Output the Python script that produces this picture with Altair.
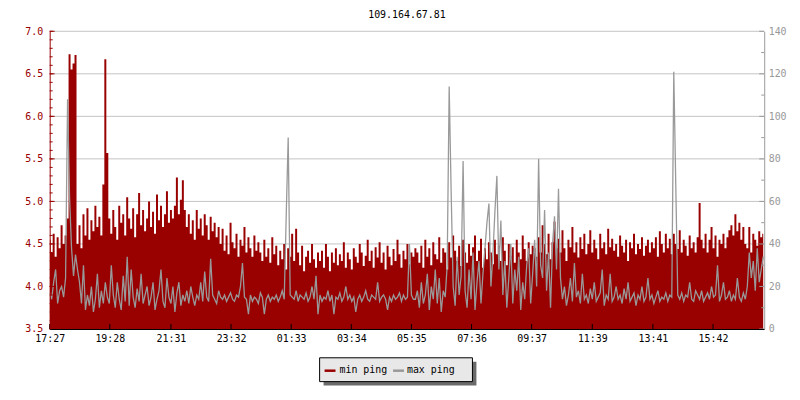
import altair as alt
import pandas as pd

TITLE = "109.164.67.81"
SERIES = ["min ping", "max ping"]
COLORS = ["#990000", "#999999"]
STEP_MIN = 4  # minutes between samples, starting 17:27

# min ping (left axis, ms)
MIN_PING = [
    4.55, 4.40, 4.62, 4.35, 4.58, 4.45, 4.72, 4.50, 4.60, 4.80,
    6.73, 6.55, 6.62, 6.72,
    4.50, 4.72, 4.45, 4.85, 4.60, 4.92, 4.55, 4.78, 4.65, 4.95, 4.70, 4.82, 4.60,
    5.20, 6.67, 5.57,
    4.80, 4.62, 4.90, 4.70, 4.55, 4.95, 4.75, 4.85, 4.60, 5.05,
    4.80, 4.68, 4.92, 4.58, 4.85, 5.10, 4.72, 4.90, 4.65, 4.80,
    5.00, 4.70, 4.88, 4.62, 5.08, 4.78, 4.95, 4.70, 4.85, 5.12,
    4.75, 4.90, 4.80,
    4.95, 5.28, 4.85, 5.02, 5.25, 4.90,
    4.70, 4.85, 4.62, 4.78, 4.55, 4.90, 4.68, 4.80, 4.60, 4.85,
    4.72, 4.55, 4.82, 4.65, 4.75, 4.58, 4.70,
    4.50, 4.68, 4.42, 4.60, 4.38, 4.75, 4.52, 4.45, 4.62, 4.35,
    4.55, 4.48, 4.70, 4.40, 4.58, 4.45, 4.35, 4.60, 4.42, 4.52,
    4.40, 4.30, 4.55, 4.35, 4.45, 4.28, 4.58, 4.38, 4.48, 4.25,
    4.42, 4.32, 4.50, 4.20, 4.45,
    4.35, 4.62, 4.30, 4.68, 4.40, 4.25, 4.48, 4.18, 4.35, 4.42,
    4.28, 4.50, 4.32, 4.22, 4.40,
    4.30, 4.42, 4.22, 4.50, 4.35, 4.18, 4.40, 4.28, 4.45, 4.25,
    4.38, 4.30, 4.52, 4.22, 4.40, 4.32, 4.20, 4.45, 4.35, 4.28,
    4.50, 4.40, 4.24, 4.36, 4.55, 4.30, 4.42, 4.22, 4.46, 4.34,
    4.52, 4.28, 4.40, 4.20, 4.48, 4.35, 4.25, 4.44, 4.30, 4.55,
    4.38, 4.22, 4.42, 4.32, 4.50, 4.26, 4.40, 4.35, 4.45,
    4.40, 4.28, 4.48, 4.22, 4.55, 4.35, 4.45, 4.25, 4.52, 4.38,
    4.32, 4.58, 4.28, 4.45, 4.40, 4.20, 4.52, 4.34, 4.60, 4.42,
    4.30, 4.48, 4.24, 4.55, 4.40, 4.28, 4.50, 4.36, 4.46, 4.60,
    4.30, 4.42, 4.56, 4.22, 4.45, 4.32, 4.52, 4.40, 4.26, 4.55,
    4.38, 4.48, 4.30, 4.58, 4.42, 4.25, 4.50, 4.36, 4.46, 4.28,
    4.55, 4.40, 4.32, 4.60, 4.44, 4.30, 4.52, 4.38, 4.48,
    4.45, 4.35, 4.58, 4.40, 4.72, 4.50, 4.38, 4.62, 4.32, 4.52,
    4.76, 4.45, 4.56, 4.40, 4.66, 4.45, 4.30, 4.55, 4.46, 4.70,
    4.40, 4.52, 4.34, 4.58, 4.44, 4.62, 4.38, 4.50, 4.66, 4.40,
    4.55, 4.45, 4.32, 4.62, 4.45, 4.52, 4.38, 4.68, 4.46, 4.56,
    4.42, 4.50, 4.35, 4.60, 4.48, 4.40, 4.55, 4.30, 4.52, 4.45,
    4.62, 4.38, 4.50, 4.44, 4.58, 4.36, 4.48, 4.55, 4.40, 4.52,
    4.45, 4.58, 4.35, 4.65, 4.50, 4.40, 4.62, 4.45, 4.56, 4.38,
    4.62, 4.50, 4.44, 4.66, 4.40, 4.55, 4.48, 4.36, 4.60, 4.45,
    4.52, 4.40, 4.58,
    4.98,
    4.55, 4.45, 4.62, 4.40, 4.55, 4.70, 4.45, 4.60, 4.35, 4.55,
    4.50, 4.62, 4.45, 4.58, 4.66, 4.72, 4.60,
    4.85,
    4.65, 4.75, 4.55, 4.70, 4.50, 4.45, 4.70, 4.40, 4.62, 4.55,
    4.48, 4.65, 4.58, 4.62,
]

# max ping (right axis, ms)
MAX_PING = [
    17, 14, 22, 28, 12, 18, 20, 15, 24,
    108, 62, 38, 25,
    35, 28, 22, 12, 30, 9, 16, 11, 20, 8, 14, 26, 10, 18, 12, 22, 15,
    12, 30, 16, 10, 22, 14, 9, 25, 13, 34,
    11, 28, 15, 10, 19, 13, 26, 12, 16, 20,
    11, 15, 22, 9, 14, 18, 28, 13, 10, 24,
    15, 12, 20, 8, 17, 22, 11, 16, 13,
    18, 12, 20, 15, 11, 16, 14, 22, 13,
    27, 15, 13, 33, 16,
    14, 12, 18, 15, 14, 16, 13, 15, 17, 14, 13, 16, 15, 20,
    31,
    15, 14, 7, 16, 13, 15, 14, 12, 17, 15,
    7,
    14, 16, 13, 15, 14, 16, 13, 15, 18, 14,
    53, 90,
    16, 15, 14, 18, 13, 16, 15, 14, 17, 13, 15, 20, 14,
    25, 7,
    16, 13, 15, 14, 18, 13, 16,
    7,
    15, 14, 17, 13, 15, 20, 14, 16, 13, 15, 8, 14, 16, 13, 15, 18, 14, 13, 16,
    15, 14, 22, 13, 15, 16, 14, 9, 15, 13, 16, 14, 15, 17, 13, 16, 14, 15,
    40,
    16, 14,
    14, 18, 10, 22, 12, 16, 26, 9, 20, 14, 28, 12, 24, 8, 18, 15, 30,
    114, 64,
    20, 11, 34, 16, 25,
    79,
    18, 10, 28, 14, 36, 9, 22, 32, 12, 26, 38,
    50, 59,
    20, 35,
    55, 72,
    28, 51,
    16, 32, 10, 24, 40, 12, 28, 18, 34, 9, 22, 14, 30, 38, 12, 26, 42, 20,
    80,
    30, 24,
    56,
    18, 36, 10, 40,
    53, 28, 66, 24,
    14, 20, 11, 16, 24, 13, 31, 15, 18, 12, 26, 14, 16, 12, 19, 14, 22, 13,
    15, 17, 28, 11, 16, 14, 26, 13, 15, 20,
    14, 16, 12, 19, 14, 22, 13, 15, 17, 11, 16, 14, 20, 13, 15, 24, 14, 16,
    12, 15, 18, 13, 15, 14, 17, 13, 16, 15,
    121, 68, 16,
    14, 17, 13, 16, 15, 22, 14, 13, 18, 16, 14, 18, 13, 15, 17, 14, 20, 15, 16,
    30,
    13, 16, 22, 14, 15, 18, 13, 16, 14, 24, 15, 13, 17, 14,
    20, 36, 24, 32, 18, 38, 22, 28, 34,
]

TICK_MIN = [0, 121, 244, 365, 486, 607, 728, 849, 970, 1092, 1214, 1335]
TICK_LABELS = ["17:27", "19:28", "21:31", "23:32", "01:33", "03:34",
               "05:35", "07:36", "09:37", "11:39", "13:41", "15:42"]
LEFT_MAJOR = [3.5, 4.0, 4.5, 5.0, 5.5, 6.0, 6.5, 7.0]
LEFT_MINOR = [round(3.5 + 0.1 * k, 1) for k in range(36)]
RIGHT_MAJOR = [0, 20, 40, 60, 80, 100, 120, 140]
RIGHT_MINOR = [10, 30, 50, 70, 90, 110, 130]

W, H = 720, 300
FONT = "DejaVu Sans Mono"
XDOM = [0, 1438]

df_min = pd.DataFrame({"m": [STEP_MIN * i for i in range(len(MIN_PING))], "v": MIN_PING})
df_max = pd.DataFrame({"m": [STEP_MIN * i for i in range(len(MAX_PING))], "v": MAX_PING})

xs = alt.Scale(domain=XDOM, nice=False, zero=False)
ls = alt.Scale(domain=[3.5, 7.0], nice=False, zero=False)
rs = alt.Scale(domain=[0, 140], nice=False, zero=False)

expr = "''"
for t, lab in reversed(list(zip(TICK_MIN, TICK_LABELS))):
    expr = f"datum.value == {t} ? '{lab}' : ({expr})"

X_AXIS = alt.Axis(values=TICK_MIN, labelExpr=expr, title=None, ticks=False, grid=False,
                  domainColor="black", domainWidth=1, labelColor="black", labelFont=FONT,
                  labelFontSize=10, labelPadding=5, labelFlush=False, labelOverlap=False,
                  zindex=1)

grid = alt.Chart(pd.DataFrame({"g": LEFT_MAJOR})).mark_rule(color="#c4c4c4", strokeWidth=1).encode(
    y=alt.Y("g:Q", scale=ls, axis=None), x=alt.value(0), x2=alt.value(W))

area = alt.Chart(df_min).mark_area(color=COLORS[0], interpolate="step", clip=True).encode(
    x=alt.X("m:Q", scale=xs, axis=X_AXIS),
    y=alt.Y("v:Q", scale=ls, axis=alt.Axis(orient="left", values=LEFT_MAJOR, format=".1f", title=None,
                                            ticks=False, grid=False, domainColor=COLORS[0],
                                            labelColor=COLORS[0], labelFont=FONT, labelFontSize=10,
                                            labelPadding=7, labelFlush=False, zindex=1)))

line = alt.Chart(df_max).mark_line(color=COLORS[1], strokeWidth=1.3, interpolate="linear", clip=True).encode(
    x=alt.X("m:Q", scale=xs, axis=X_AXIS),
    y=alt.Y("v:Q", scale=rs, axis=alt.Axis(orient="right", values=RIGHT_MAJOR, title=None,
                                            ticks=False, grid=False, domainColor=COLORS[1],
                                            labelColor=COLORS[1], labelFont=FONT, labelFontSize=10,
                                            labelPadding=4, labelFlush=False, zindex=1)))

lt_minor = alt.Chart(pd.DataFrame({"t": LEFT_MINOR})).mark_rule(color=COLORS[0]).encode(
    y=alt.Y("t:Q", scale=ls, axis=None), x=alt.value(0), x2=alt.value(3))
lt_major = alt.Chart(pd.DataFrame({"t": LEFT_MAJOR})).mark_rule(color=COLORS[0]).encode(
    y=alt.Y("t:Q", scale=ls, axis=None), x=alt.value(0), x2=alt.value(5))
rt_minor = alt.Chart(pd.DataFrame({"t": RIGHT_MINOR})).mark_rule(color=COLORS[1]).encode(
    y=alt.Y("t:Q", scale=rs, axis=None), x=alt.value(W - 3), x2=alt.value(W))
rt_major = alt.Chart(pd.DataFrame({"t": RIGHT_MAJOR})).mark_rule(color=COLORS[1]).encode(
    y=alt.Y("t:Q", scale=rs, axis=None), x=alt.value(W - 5), x2=alt.value(W))
xt = alt.Chart(pd.DataFrame({"m": TICK_MIN})).mark_rule(color="black").encode(
    x=alt.X("m:Q", scale=xs, axis=X_AXIS), y=alt.value(H - 5), y2=alt.value(H))

one = pd.DataFrame({"a": [0]})
shadow = alt.Chart(one).mark_rect(color="#6a6a6a").encode(
    x=alt.value(276), x2=alt.value(430), y=alt.value(333), y2=alt.value(357))
box = alt.Chart(one).mark_rect(fill="#e8e8e8", stroke="black", strokeWidth=1).encode(
    x=alt.value(272), x2=alt.value(426), y=alt.value(329), y2=alt.value(353))
sw1 = alt.Chart(one).mark_rule(color=COLORS[0], strokeWidth=2.5).encode(
    x=alt.value(277), x2=alt.value(288), y=alt.value(342))
sw2 = alt.Chart(one).mark_rule(color=COLORS[1], strokeWidth=2.5).encode(
    x=alt.value(346), x2=alt.value(357), y=alt.value(342))
t1 = alt.Chart(pd.DataFrame({"s": [SERIES[0]]})).mark_text(
    align="left", baseline="middle", font=FONT, fontSize=10, color="black").encode(
    text="s:N", x=alt.value(292), y=alt.value(341))
t2 = alt.Chart(pd.DataFrame({"s": [SERIES[1]]})).mark_text(
    align="left", baseline="middle", font=FONT, fontSize=10, color="black").encode(
    text="s:N", x=alt.value(360), y=alt.value(341))
title = alt.Chart(pd.DataFrame({"s": [TITLE]})).mark_text(
    align="center", baseline="alphabetic", font=FONT, fontSize=10, color="black").encode(
    text="s:N", x=alt.value(W / 2), y=alt.value(-13))

chart = alt.layer(
    grid, area, line, lt_minor, lt_major, rt_minor, rt_major, xt,
    shadow, box, sw1, sw2, t1, t2, title
).resolve_scale(y="independent").properties(
    width=W, height=H,
    padding={"left": 42, "top": 22, "right": 28, "bottom": 62},
    autosize=alt.AutoSizeParams(type="none"),
).configure_view(stroke=None)

chart.save("out.html", embed_options={"renderer": "svg", "actions": False})
